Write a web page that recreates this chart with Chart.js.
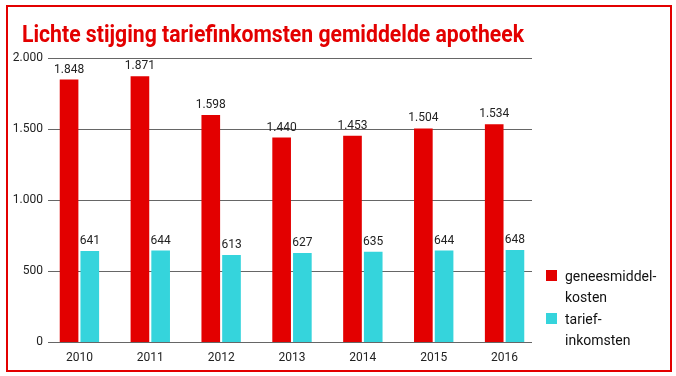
<!DOCTYPE html>
<html>
<head>
<meta charset="utf-8">
<script src="https://cdn.jsdelivr.net/npm/chart.js@4"></script>
<style>
  html, body { margin: 0; padding: 0; background: #fff; }
  #wrap { position: relative; width: 676px; height: 376px; }
  #frame { position: absolute; left: 6px; top: 5px; width: 666px; height: 367px;
           box-sizing: border-box; border: 2px solid #e30000; pointer-events: none; }
</style>
</head>
<body>
<div id="wrap">
  <canvas id="chart" width="676" height="376"></canvas>
  <div id="frame"></div>
</div>
<script>
const titleText = 'Lichte stijging tariefinkomsten gemiddelde apotheek';
const years = ['2010', '2011', '2012', '2013', '2014', '2015', '2016'];
const geneesmiddelkosten = [1848, 1871, 1598, 1440, 1453, 1504, 1534];
const tariefinkomsten = [641, 644, 613, 627, 635, 644, 648];
const seriesNames = [['geneesmiddel-', 'kosten'], ['tarief-', 'inkomsten']];
const yTicks = [0, 500, 1000, 1500, 2000];

const RED = '#e30000';
const CYAN = '#35d4dc';
const GRID = '#666';

function fmt(v) {
    return String(v).replace(/\B(?=(\d{3})+(?!\d))/g, '.');
}

// title, condensed by horizontal scaling to match the narrow original face
const titlePlugin = {
    id: 'titleDraw',
    afterDraw(chart) {
        const ctx = chart.ctx;
        ctx.save();
        ctx.font = 'bold 24px Roboto';
        const w = ctx.measureText(titleText).width;
        ctx.translate(22, 42);
        ctx.scale(502 / w, 1);
        ctx.fillStyle = RED;
        ctx.fillText(titleText, 0, 0);
        ctx.restore();
    }
};

// horizontal gridlines, a bit shorter than the category band like the original
const gridLines = {
    id: 'gridLines',
    beforeDatasetsDraw(chart) {
        const ctx = chart.ctx;
        const y = chart.scales.y;
        ctx.save();
        ctx.strokeStyle = GRID;
        ctx.lineWidth = 1;
        yTicks.forEach(v => {
            const py = Math.round(y.getPixelForValue(v)) + 0.5;
            ctx.beginPath();
            ctx.moveTo(48, py);
            ctx.lineTo(532, py);
            ctx.stroke();
        });
        ctx.restore();
    }
};

// value labels above each bar
const valueLabels = {
    id: 'valueLabels',
    afterDatasetsDraw(chart) {
        const ctx = chart.ctx;
        ctx.save();
        ctx.font = '12px Roboto';
        ctx.fillStyle = '#222';
        ctx.textAlign = 'center';
        ctx.textBaseline = 'bottom';
        chart.data.datasets.forEach((ds, i) => {
            chart.getDatasetMeta(i).data.forEach((bar, j) => {
                ctx.fillText(fmt(ds.data[j]), bar.x, bar.y - 4);
            });
        });
        ctx.restore();
    }
};

// legend on the right with wrapped labels
const sideLegend = {
    id: 'sideLegend',
    afterDraw(chart) {
        const ctx = chart.ctx;
        ctx.save();
        ctx.font = '14px Roboto';
        let y = 281;
        chart.data.datasets.forEach((ds, i) => {
            ctx.fillStyle = ds.backgroundColor;
            ctx.fillRect(546, y - 11, 11, 11);
            ctx.fillStyle = '#111';
            seriesNames[i].forEach((line, k) => {
                ctx.fillText(line, 565, y + k * 21);
            });
            y += 43;
        });
        ctx.restore();
    }
};

new Chart(document.getElementById('chart'), {
    type: 'bar',
    data: {
        labels: years,
        datasets: [{
            label: seriesNames[0].join(''),
            data: geneesmiddelkosten,
            backgroundColor: RED,
            categoryPercentage: 0.585,
            barPercentage: 0.9
        }, {
            label: seriesNames[1].join(''),
            data: tariefinkomsten,
            backgroundColor: CYAN,
            categoryPercentage: 0.585,
            barPercentage: 0.9
        }]
    },
    options: {
        responsive: false,
        animation: false,
        layout: { padding: { top: 58, right: 136, left: 0, bottom: 0 } },
        plugins: {
            legend: { display: false },
            title: { display: false },
            tooltip: { enabled: false }
        },
        scales: {
            x: {
                grid: { display: false, drawTicks: false },
                border: { display: false },
                ticks: { color: '#222', font: { family: 'Roboto', size: 12 }, padding: 9 },
                afterFit(scale) { scale.height = 34; }
            },
            y: {
                min: 0,
                max: 2000,
                afterBuildTicks(scale) { scale.ticks = yTicks.map(v => ({ value: v })); },
                grid: { display: false, drawTicks: false },
                border: { display: false },
                ticks: {
                    color: '#222',
                    font: { family: 'Roboto', size: 12 },
                    padding: 1,
                    callback: v => fmt(v)
                },
                afterFit(scale) { scale.width = 44; }
            }
        }
    },
    plugins: [gridLines, titlePlugin, valueLabels, sideLegend]
});
</script>
</body>
</html>
